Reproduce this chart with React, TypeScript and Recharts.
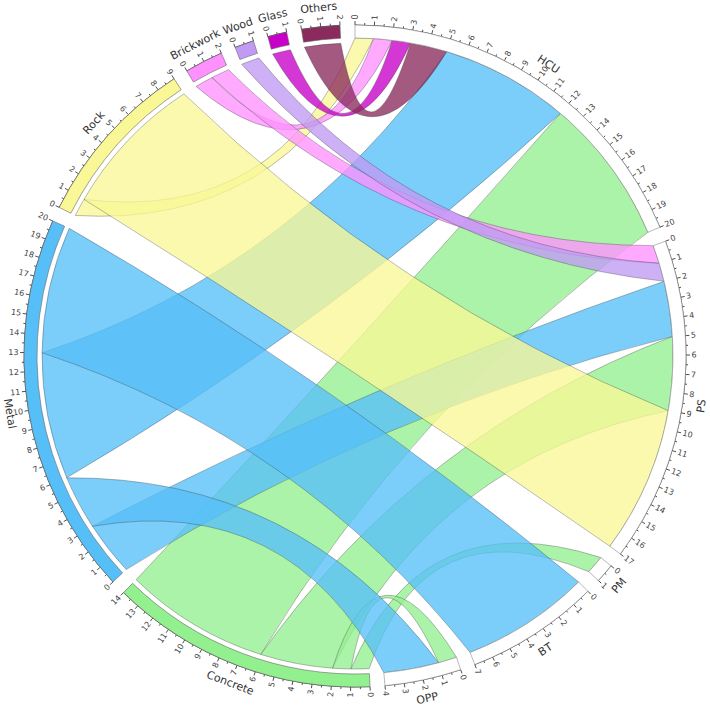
import React from "react";
import * as R from "recharts";
import { PieChart, Pie, Cell } from "recharts";

// Target groups (clockwise from top) and source groups (continuing clockwise)
const targets = ["HCU", "PS", "PM", "BT", "OPP"];
const sources = ["Concrete", "Metal", "Rock", "Brickwork", "Wood", "Glass", "Others"];

// Flow of each source into targets, ordered as [HCU, PS, PM, BT, OPP]
const concreteFlows = [8, 4, 1, 0, 1];
const metalFlows = [7, 3, 0, 7, 3];
const rockFlows = [1, 8, 0, 0, 0];
const brickworkFlows = [1, 1, 0, 0, 0];
const woodFlows = [0, 1, 0, 0, 0];
const glassFlows = [1, 0, 0, 0, 0];
const othersFlows = [2, 0, 0, 0, 0];

const sourceColors = ["#93F08F", "#56BFF8", "#F9F796", "#FF91FF", "#C09AF5", "#C800C8", "#8B2A5C"];

const flows = [concreteFlows, metalFlows, rockFlows, brickworkFlows, woodFlows, glassFlows, othersFlows];

const W = 710;
const H = 708;
const CX = 355;
const CY = 356;
const GAP = 2.6;
const R_AXIS = 331;
const R_TRACK_IN = 318;
const R_SRC = 313;
const R_TGT = 318;
const K = 0.78;
const FONT = "'DejaVu Sans', Verdana, sans-serif";

type Group = { name: string; value: number; kind: "t" | "s"; idx: number; color: string; start: number; end: number };

function buildGroups() {
  const groups: Group[] = [];
  targets.forEach((n, j) => {
    const v = flows.reduce((a, row) => a + row[j], 0);
    groups.push({ name: n, value: v, kind: "t", idx: j, color: "#ffffff", start: 0, end: 0 });
  });
  sources.forEach((n, i) => {
    const v = flows[i].reduce((a, b) => a + b, 0);
    groups.push({ name: n, value: v, kind: "s", idx: i, color: sourceColors[i], start: 0, end: 0 });
  });
  const total = groups.reduce((a, g) => a + g.value, 0);
  const unit = (360 - GAP * groups.length) / total;
  let th = 0;
  groups.forEach((g) => {
    g.start = th;
    g.end = th + g.value * unit;
    th = g.end + GAP;
  });
  return { groups, unit };
}

const { groups, unit } = buildGroups();
const pieData = groups.map((g) => ({ name: g.name, value: g.value }));

function pt(theta: number, r: number): [number, number] {
  const a = (theta * Math.PI) / 180;
  return [CX + r * Math.sin(a), CY - r * Math.cos(a)];
}

type Link = { i: number; j: number; v: number; s1: number; s2: number; t1: number; t2: number };

function buildLinks(): Link[] {
  const links: Link[] = [];
  flows.forEach((row, i) => row.forEach((v, j) => { if (v > 0) links.push({ i, j, v, s1: 0, s2: 0, t1: 0, t2: 0 }); }));
  sources.forEach((_, i) => {
    const g = groups[targets.length + i];
    const ls = links.filter((l) => l.i === i).sort((a, b) => a.v - b.v || a.j - b.j);
    let p = g.start;
    ls.forEach((l) => { l.s1 = p; p += l.v * unit; l.s2 = p; });
  });
  targets.forEach((_, j) => {
    const g = groups[j];
    const ls = links.filter((l) => l.j === j).sort((a, b) => a.v - b.v || a.i - b.i);
    let p = g.start;
    ls.forEach((l) => { l.t1 = p; p += l.v * unit; l.t2 = p; });
  });
  return links;
}

const links = buildLinks();

function ctrl(P: [number, number], Q: [number, number]) {
  const mx = (P[0] + Q[0]) / 2 - CX;
  const my = (P[1] + Q[1]) / 2 - CY;
  const f = 2 * K - 1;
  return [CX + f * mx, CY + f * my];
}

function ribbonPath(l: Link) {
  const A1 = pt(l.s1, R_SRC), A2 = pt(l.s2, R_SRC), B1 = pt(l.t1, R_TGT), B2 = pt(l.t2, R_TGT);
  const c1 = ctrl(A2, B1), c2 = ctrl(B2, A1);
  const la = l.s2 - l.s1 > 180 ? 1 : 0;
  const lb = l.t2 - l.t1 > 180 ? 1 : 0;
  return `M${A1[0]},${A1[1]} A${R_SRC},${R_SRC} 0 ${la} 1 ${A2[0]},${A2[1]} Q${c1[0]},${c1[1]} ${B1[0]},${B1[1]} A${R_TGT},${R_TGT} 0 ${lb} 1 ${B2[0]},${B2[1]} Q${c2[0]},${c2[1]} ${A1[0]},${A1[1]} Z`;
}

function Ribbons() {
  return (
    <g>
      {links.map((l, k) => (
        <path key={k} d={ribbonPath(l)} fill={sourceColors[l.i]} fillOpacity={0.78} stroke="#333" strokeOpacity={0.55} strokeWidth={0.6} />
      ))}
    </g>
  );
}

function Axes() {
  const els: React.ReactNode[] = [];
  groups.forEach((g, gi) => {
    const a = pt(g.start, R_AXIS), b = pt(g.end, R_AXIS);
    els.push(<path key={`ax${gi}`} d={`M${a[0]},${a[1]} A${R_AXIS},${R_AXIS} 0 0 1 ${b[0]},${b[1]}`} fill="none" stroke="#222" strokeWidth={0.8} />);
    for (let v = 0; v <= g.value + 1e-9; v += 0.5) {
      const th = g.start + v * unit;
      const major = Math.abs(v - Math.round(v)) < 1e-6;
      const p0 = pt(th, R_AXIS), p1 = pt(th, R_AXIS + (major ? 4 : 2.2));
      els.push(<line key={`t${gi}-${v}`} x1={p0[0]} y1={p0[1]} x2={p1[0]} y2={p1[1]} stroke="#222" strokeWidth={0.8} />);
      if (major) {
        const lp = pt(th, R_AXIS + 5.5);
        const t = ((th % 360) + 360) % 360;
        const right = t < 180;
        const rot = right ? t - 90 : t - 270;
        els.push(
          <text key={`l${gi}-${v}`} x={lp[0]} y={lp[1]} fontSize={8} fontFamily={FONT} fill="#444" textAnchor={right ? "start" : "end"} dominantBaseline="central" transform={`rotate(${rot},${lp[0]},${lp[1]})`}>
            {Math.round(v)}
          </text>
        );
      }
    }
    const mid = (g.start + g.end) / 2;
    const np = pt(mid, 350);
    const m = ((mid % 360) + 360) % 360;
    const nrot = m > 90 && m < 270 ? m - 180 : m;
    els.push(
      <text key={`n${gi}`} x={np[0]} y={np[1]} fontSize={11} fontFamily={FONT} fill="#333" textAnchor="middle" dominantBaseline="central" transform={`rotate(${nrot},${np[0]},${np[1]})`}>
        {g.name}
      </text>
    );
  });
  return <g>{els}</g>;
}

const Customized: any = (R as any).Customized;

export default function App() {
  return (
    <div style={{ position: "absolute", left: 0, top: 0, width: W, height: H, background: "#fff" }}>
      <PieChart width={W} height={H} margin={{ top: 0, right: 0, bottom: 0, left: 0 }}>
        <Pie
          data={pieData}
          dataKey="value"
          nameKey="name"
          cx={CX}
          cy={CY}
          innerRadius={R_TRACK_IN}
          outerRadius={R_AXIS}
          startAngle={90}
          endAngle={-270}
          paddingAngle={GAP}
          isAnimationActive={false}
          label={false}
          labelLine={false}
        >
          {groups.map((g, i) => (
            <Cell key={i} fill={g.color} stroke={g.kind === "t" ? "#888" : "#666"} strokeWidth={0.6} />
          ))}
        </Pie>
        {Customized ? <Customized component={<Ribbons />} /> : <Ribbons />}
        {Customized ? <Customized component={<Axes />} /> : <Axes />}
      </PieChart>
    </div>
  );
}
